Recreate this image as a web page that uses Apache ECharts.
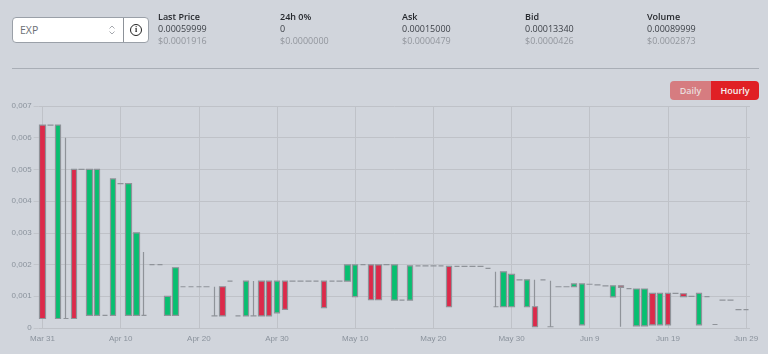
<!DOCTYPE html>
<html>
<head>
<meta charset="utf-8">
<script src="https://cdn.jsdelivr.net/npm/echarts@6/dist/echarts.min.js"></script>
<style>
  html, body { margin: 0; padding: 0; background: #d1d5dc; }
  body { width: 768px; height: 354px; position: relative; overflow: hidden; font-family: "Open Sans", sans-serif; }
  #chart { position: absolute; left: 0; top: 0; width: 768px; height: 354px; }
  .select { position: absolute; left: 12px; top: 17px; width: 135px; height: 24px; background: #fff; border: 1px solid #9aa0a8; border-radius: 4px; }
  .select .name { position: absolute; left: 7px; top: 5px; font-size: 10.5px; line-height: 14px; color: #6b6f76; }
  .select .arrows { position: absolute; left: 95px; top: 6px; }
  .select .sep { position: absolute; left: 110px; top: 0; width: 1px; height: 24px; background: #8d9299; }
  .select .info { position: absolute; left: 117px; top: 6px; width: 10px; height: 10px; border: 1.3px solid #222; border-radius: 50%; font: bold 8px/10px "Liberation Serif", serif; text-align: center; color: #222; }
  .stat { position: absolute; top: 11px; font-size: 9px; line-height: 12px; color: #3d4148; white-space: nowrap; }
  .stat b { display: block; color: #25282d; font-weight: 600; }
  .stat span { display: block; color: #92969d; }
  .rule { position: absolute; left: 12px; top: 68px; width: 747px; height: 1px; background: #a9aeb6; }
  .btn { position: absolute; top: 81px; height: 19px; font-size: 9px; font-weight: 600; line-height: 19px; text-align: center; color: #f4f4f4; }
  #daily { left: 670px; width: 41px; background: #d67c80; border-radius: 4px 0 0 4px; color: #eadcdd; }
  #hourly { left: 711px; width: 48px; background: #e02025; border-radius: 0 4px 4px 0; }
</style>
</head>
<body>
<div id="chart"></div>
<div class="select">
  <div class="name">EXP</div>
  <svg class="arrows" width="8" height="12" viewBox="0 0 8 12"><path d="M1.5 4.5 L4 2 L6.5 4.5 M1.5 7.5 L4 10 L6.5 7.5" fill="none" stroke="#a5a8ae" stroke-width="1"/></svg>
  <div class="sep"></div>
  <div class="info">i</div>
</div>
<div class="stat" style="left:158px"><b>Last Price</b>0.00059999<span>$0.0001916</span></div>
<div class="stat" style="left:280px"><b>24h 0%</b>0<span>$0.0000000</span></div>
<div class="stat" style="left:402px"><b>Ask</b>0.00015000<span>$0.0000479</span></div>
<div class="stat" style="left:525px"><b>Bid</b>0.00013340<span>$0.0000426</span></div>
<div class="stat" style="left:647px"><b>Volume</b>0.00089999<span>$0.0002873</span></div>
<div class="rule"></div>
<div class="btn" id="daily">Daily</div>
<div class="btn" id="hourly">Hourly</div>
<script>
const days = [
  'Mar 31',
  'Apr 1','Apr 2','Apr 3','Apr 4','Apr 5','Apr 6','Apr 7','Apr 8','Apr 9','Apr 10',
  'Apr 11','Apr 12','Apr 13','Apr 14','Apr 15','Apr 16','Apr 17','Apr 18','Apr 19','Apr 20',
  'Apr 21','Apr 22','Apr 23','Apr 24','Apr 25','Apr 26','Apr 27','Apr 28','Apr 29','Apr 30',
  'May 1','May 2','May 3','May 4','May 5','May 6','May 7','May 8','May 9','May 10',
  'May 11','May 12','May 13','May 14','May 15','May 16','May 17','May 18','May 19','May 20',
  'May 21','May 22','May 23','May 24','May 25','May 26','May 27','May 28','May 29','May 30',
  'May 31','Jun 1','Jun 2','Jun 3','Jun 4','Jun 5','Jun 6','Jun 7','Jun 8','Jun 9',
  'Jun 10','Jun 11','Jun 12','Jun 13','Jun 14','Jun 15','Jun 16','Jun 17','Jun 18','Jun 19',
  'Jun 20','Jun 21','Jun 22','Jun 23','Jun 24','Jun 25','Jun 26','Jun 27','Jun 28','Jun 29'
];

// prices in units of 0.0001, one row of ten per line
const opens = [
  3, 64, 64, 3, 3, 50, 50, 50, 4, 47,
  45.5, 45.5, 30, 4, 20, 20, 10, 19, 13, 13,
  13, 13, 3.8, 3.8, 14.8, 3.8, 14.8, 3.8, 3.8, 3.8,
  14.8, 5.9, 14.8, 14.8, 14.8, 14.8, 6.4, 14.8, 14.8, 19.9,
  19.9, 20, 8.9, 8.9, 20, 19.9, 8.8, 19.6, 19.6, 19.6,
  19.6, 19.6, 6.7, 19.4, 19.4, 19.4, 19.4, 18.8, 6.7, 17.7,
  16.9, 15.2, 15.2, 0.4, 15.2, 0.4, 13, 13, 13.9, 13.9,
  13.8, 13.6, 13.3, 13.3, 12.8, 12.4, 12.3, 12.3, 1, 10.9,
  1, 10.9, 9.9, 10, 10.9, 9.9, 1.1, 8.8, 8.8, 5.8,
  5.8
];
const closes = [
  64, 64, 3, 3, 50, 50, 4, 4, 4, 4,
  45.5, 4, 4, 4, 20, 20, 4, 4, 13, 13,
  13, 13, 3.8, 13, 14.8, 3.8, 3.8, 3.8, 14.8, 14.8,
  4.8, 14.8, 14.8, 14.8, 14.8, 14.8, 14.8, 14.8, 14.8, 14.8,
  9.9, 20, 19.9, 19.9, 20, 8.8, 8.8, 8.8, 19.6, 19.6,
  19.6, 19.6, 19.4, 19.4, 19.4, 19.4, 19.4, 18.8, 6.7, 6.7,
  6.7, 15.2, 6.7, 6.7, 15.2, 0.4, 13, 13, 13, 1,
  13.8, 13.6, 13.3, 9.8, 13.3, 12.4, 0.7, 0.7, 10.9, 1,
  10.9, 10.9, 10.8, 10, 1, 9.9, 1.1, 8.8, 8.8, 5.8,
  5.8
];
const lows = [
  3, 64, 3, 3, 3, 50, 4, 4, 4, 4,
  45.5, 4, 4, 4, 20, 20, 4, 4, 13, 13,
  13, 13, 3.8, 3.8, 14.8, 3.8, 3.8, 3.8, 3.8, 3.8,
  4.8, 5.9, 14.8, 14.8, 14.8, 14.8, 6.4, 14.8, 14.8, 14.8,
  9.9, 20, 8.9, 8.9, 20, 8.8, 8.8, 8.8, 19.6, 19.6,
  19.6, 19.6, 6.7, 19.4, 19.4, 19.4, 19.4, 18.8, 6.7, 6.7,
  6.7, 15.2, 6.7, 0.4, 15.2, 0.4, 13, 13, 13, 1,
  13.8, 13.6, 13.3, 9.8, 0.4, 12.4, 0.7, 0.7, 1, 1,
  1, 10.9, 9.9, 10, 1, 9.9, 1.1, 8.8, 8.8, 5.8,
  5.8
];
const highs = [
  64, 64, 64, 60, 50, 50, 50, 50, 4, 47,
  45.5, 45.5, 30, 24, 20, 20, 10, 19, 13, 13,
  13, 13, 13, 13, 14.8, 3.8, 14.8, 14.8, 14.8, 14.8,
  14.8, 14.8, 14.8, 14.8, 14.8, 14.8, 14.8, 14.8, 14.8, 19.9,
  19.9, 20, 19.9, 19.9, 20, 19.9, 8.8, 19.6, 19.6, 19.6,
  19.6, 19.6, 19.4, 19.4, 19.4, 19.4, 19.4, 18.8, 17.7, 17.7,
  16.9, 15.2, 15.2, 15.2, 15.2, 14.9, 13, 13, 13.9, 13.9,
  13.8, 13.6, 13.3, 13.3, 13.3, 12.4, 12.3, 12.3, 10.9, 10.9,
  10.9, 10.9, 10.8, 10, 10.9, 9.9, 1.1, 8.8, 8.8, 5.8,
  5.8
];

const candles = days.map((d, i) => [opens[i], closes[i], lows[i], highs[i]].map(v => v / 10000));

const myChart = echarts.init(document.getElementById('chart'));
myChart.setOption({
  animation: false,
  backgroundColor: 'transparent',
  grid: { left: 38.6, right: 18, top: 106, bottom: 26 },
  xAxis: {
    type: 'category',
    data: days,
    axisLine: { show: false },
    axisTick: { alignWithLabel: true, interval: 9, length: 5, lineStyle: { color: '#c2c5cb' } },
    axisLabel: { interval: 9, color: '#8a929c', fontSize: 8, fontFamily: 'Liberation Sans', margin: 7, showMaxLabel: true },
    splitLine: { show: true, alignWithLabel: true, interval: 9, lineStyle: { color: '#bfc2c8', width: 1 } }
  },
  yAxis: {
    type: 'value',
    min: 0,
    max: 0.007,
    interval: 0.001,
    axisLine: { show: false },
    axisTick: { show: true, length: 5, lineStyle: { color: '#c2c5cb' } },
    axisLabel: {
      color: '#8a929c',
      fontSize: 8,
      fontFamily: 'Liberation Sans',
      margin: 7,
      formatter: v => String(v).replace('.', ',')
    },
    splitLine: { lineStyle: { color: '#bfc2c8', width: 1 } }
  },
  series: [{
    type: 'candlestick',
    data: candles,
    barWidth: 6,
    itemStyle: {
      color: '#dc2a4a',
      color0: '#07bf70',
      borderColor: '#8f9399',
      borderColor0: '#8f9399',
      borderColorDoji: '#8f9399',
      borderWidth: 1.2
    }
  }]
});
</script>
</body>
</html>
